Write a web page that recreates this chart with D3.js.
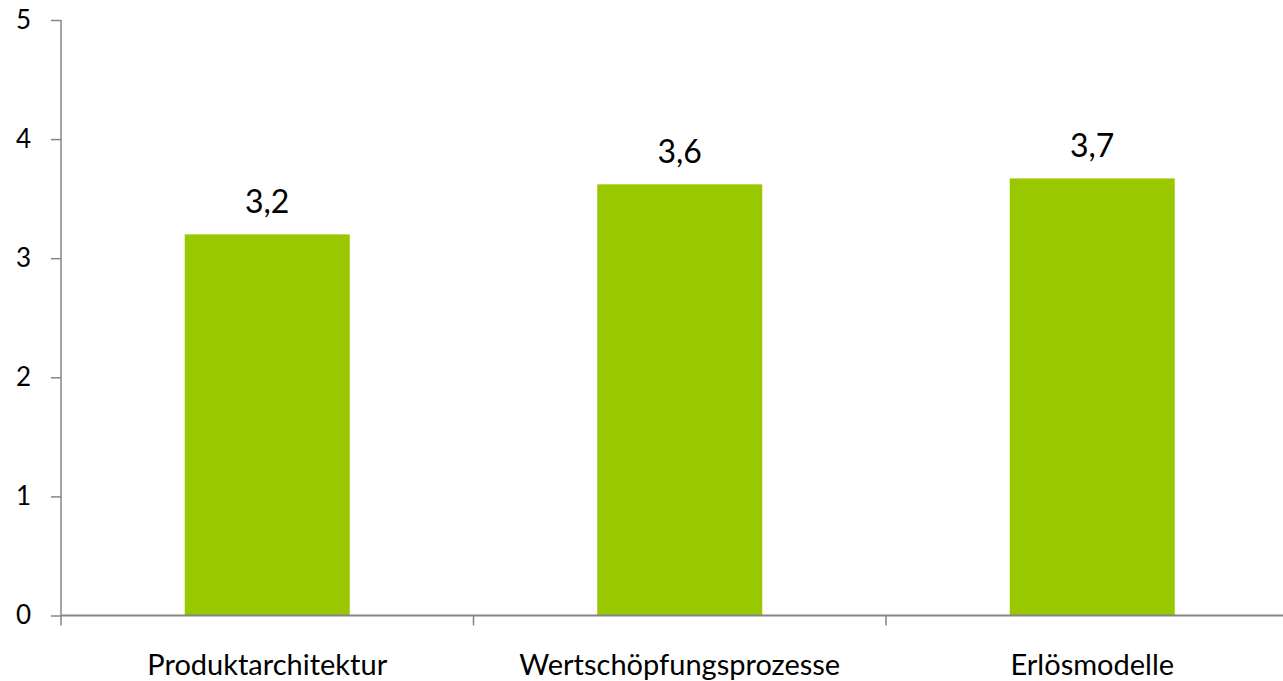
<!DOCTYPE html>
<html>
<head>
<meta charset="utf-8">
<script src="https://cdn.jsdelivr.net/npm/d3@7"></script>
<style>
  body { margin: 0; background: #fff; }
  svg { display: block; font-family: Lato, "Open Sans", sans-serif; }
</style>
</head>
<body>
<div id="chart"></div>
<script>
var categories = ['Produktarchitektur', 'Wertschöpfungsprozesse', 'Erlösmodelle'];
var values = [3.2, 3.62, 3.67];
var yTicks = [0, 1, 2, 3, 4, 5];

var width = 1283,
    height = 681;

var x = d3.scaleBand()
    .domain(categories)
    .range([61, 1298.5])
    .paddingInner(0.6)
    .paddingOuter(0.3);

var y = d3.scaleLinear()
    .domain([0, 5])
    .range([615.5, 20]);

var svg = d3.select('#chart').append('svg')
    .attr('width', width)
    .attr('height', height);

var fmt = function(v) { return d3.format('.1f')(v).replace('.', ','); };

// bars
svg.selectAll('.bar')
    .data(values)
    .enter().append('rect')
    .attr('class', 'bar')
    .attr('x', function(d, i) { return x(categories[i]); })
    .attr('y', function(d) { return y(d); })
    .attr('width', x.bandwidth())
    .attr('height', function(d) { return y(0) - y(d); })
    .style('fill', '#99c800');

// value labels
svg.selectAll('.val')
    .data(values)
    .enter().append('text')
    .attr('class', 'val')
    .attr('x', function(d, i) { return x(categories[i]) + x.bandwidth() / 2; })
    .attr('y', function(d) { return y(d) - 21; })
    .attr('text-anchor', 'middle')
    .attr('font-size', '32px')
    .attr('fill', '#000')
    .text(fmt);

// y axis
var yAxis = svg.append('g')
    .attr('transform', 'translate(61,0)')
    .call(d3.axisLeft(y).tickValues(yTicks).tickSize(10).tickPadding(20).tickFormat(d3.format('d')));
yAxis.selectAll('line, path').attr('stroke', '#868686').attr('stroke-width', 1.5);
yAxis.select('path').attr('d', 'M0,' + y(5) + 'V' + y(0));
yAxis.selectAll('text').attr('font-size', '26px').attr('fill', '#000')
    .attr('font-family', 'Lato, "Open Sans", sans-serif');

// x axis
var xAxis = svg.append('g')
    .attr('transform', 'translate(0,' + y(0) + ')');
xAxis.append('line')
    .attr('x1', 61).attr('x2', width)
    .attr('stroke', '#868686').attr('stroke-width', 2);
var step = x.step();
xAxis.selectAll('.tick')
    .data(d3.range(categories.length + 1))
    .enter().append('line')
    .attr('x1', function(i) { return 61 + i * step; })
    .attr('x2', function(i) { return 61 + i * step; })
    .attr('y1', 0).attr('y2', 10)
    .attr('stroke', '#868686').attr('stroke-width', 1.5);
xAxis.selectAll('.cat')
    .data(categories)
    .enter().append('text')
    .attr('x', function(d) { return x(d) + x.bandwidth() / 2; })
    .attr('y', 59)
    .attr('text-anchor', 'middle')
    .attr('font-size', '29px')
    .attr('fill', '#000')
    .text(function(d) { return d; });
</script>
</body>
</html>
